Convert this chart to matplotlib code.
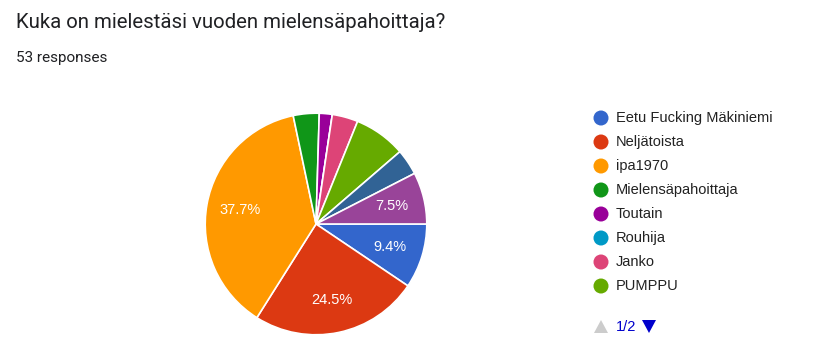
import matplotlib
matplotlib.use("Agg")
import matplotlib.pyplot as plt
from matplotlib.patches import Circle, Polygon
import math

title = "Kuka on mielestäsi vuoden mielensäpahoittaja?"
subtitle = "53 responses"
# Page-1 legend entries plus two further (page 2) answers visible in the pie
names = ["Eetu Fucking Mäkiniemi", "Neljätoista", "ipa1970", "Mielensäpahoittaja",
         "Toutain", "Rouhija", "Janko", "PUMPPU", "Vastaus 10", "Vastaus 11"]
counts = [5, 13, 20, 2, 1, 0, 2, 4, 2, 4]
colors = ["#3366cc", "#dc3912", "#ff9900", "#109618", "#990099",
          "#0099c6", "#dd4477", "#66aa00", "#316395", "#994499"]
labelled = ["Eetu Fucking Mäkiniemi", "Neljätoista", "ipa1970", "Vastaus 11"]
legend_names = names[:8]
page_text = "1/2"

W, H = 813, 361
fig = plt.figure(figsize=(W / 100, H / 100), dpi=100)
fig.patch.set_facecolor("white")
plt.rcParams["font.family"] = ["Roboto", "DejaVu Sans"]
chart_font = ["Liberation Sans", "DejaVu Sans"]

# overlay axes in pixel coordinates
ov = fig.add_axes([0, 0, 1, 1])
ov.set_xlim(0, W)
ov.set_ylim(H, 0)
ov.axis("off")

ov.text(16, 23, title, fontsize=14.7, color="#202124", va="center", ha="left")
ov.text(16, 58, subtitle, fontsize=11, color="#202124", va="center", ha="left")

# pie
cx, cy, r = 316, 224, 113
pax = fig.add_axes([(cx - r) / W, (H - cy - r) / H, 2 * r / W, 2 * r / H])
total = sum(counts)
wedges, _ = pax.pie(counts, colors=colors, startangle=0, counterclock=False,
                    radius=1, wedgeprops=dict(edgecolor="white", linewidth=1.2))
angle = 0.0
for n, c in zip(names, counts):
    span = 360.0 * c / total
    mid = angle - span / 2
    if n in labelled:
        rr = 0.7
        pax.text(rr * math.cos(math.radians(mid)), rr * math.sin(math.radians(mid)),
                 f"{100 * c / total:.1f}%", color="white", fontsize=10.5,
                 ha="center", va="center", family=chart_font)
    angle -= span
pax.set_xlim(-1.02, 1.02)
pax.set_ylim(-1.02, 1.02)
pax.set_aspect("equal")
pax.axis("off")

# legend
y0, step = 118, 24
for i, n in enumerate(legend_names):
    y = y0 + i * step
    ov.add_patch(Circle((601, y), 7.5, color=colors[names.index(n)], lw=0))
    ov.text(616, y, n, fontsize=10.5, color="#222222", va="center", ha="left",
            family=chart_font)

# pager
py = 327
ov.add_patch(Polygon([[594, py + 6], [608, py + 6], [601, py - 7]], closed=True,
                     color="#cccccc", lw=0))
ov.text(616, py, page_text, fontsize=10.5, color="#0000cc", va="center", ha="left",
        family=chart_font)
ov.add_patch(Polygon([[642, py - 7], [656, py - 7], [649, py + 6]], closed=True,
                     color="#0000cc", lw=0))

fig.savefig("out.png", dpi=100, facecolor="white")
